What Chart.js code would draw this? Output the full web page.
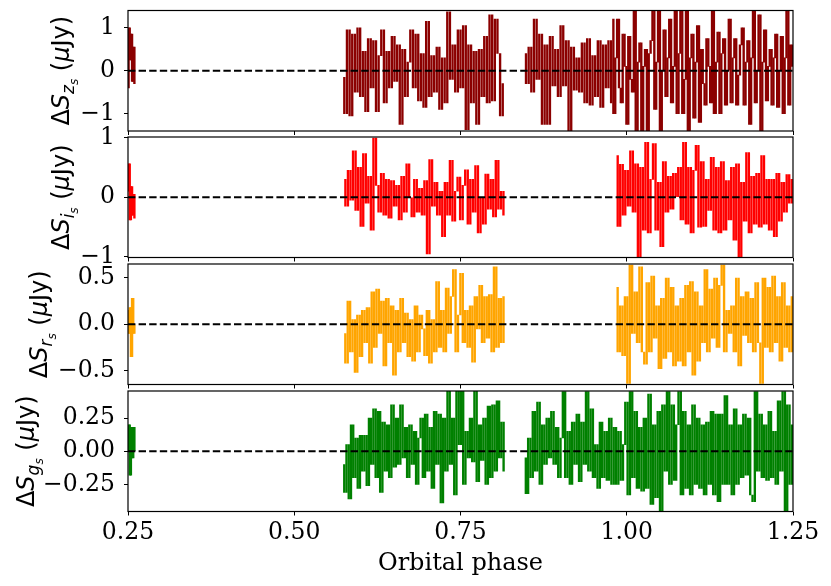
<!DOCTYPE html>
<html>
<head>
<meta charset="utf-8">
<script src="https://cdn.jsdelivr.net/npm/chart.js@4.4.1/dist/chart.umd.min.js"></script>
<style>
  body { margin: 0; background: #fff; }
  #wrap { position: relative; width: 831px; height: 586px; }
  #wrap canvas { position: absolute; left: 0; top: 0; }
</style>
</head>
<body>
<div id="wrap">
  <canvas id="panelZ" width="831" height="586"></canvas>
  <canvas id="panelI" width="831" height="586"></canvas>
  <canvas id="panelR" width="831" height="586"></canvas>
  <canvas id="panelG" width="831" height="586"></canvas>
</div>
<script>
const phaseTicks = [0.25, 0.5, 0.75, 1.0, 1.25];
const phaseTickLabels = ['0.25', '0.50', '0.75', '1.00', '1.25'];

// observed phase ranges of each band (start, end)
const zRanges = [[0.25, 0.2605], [0.5733, 0.8155], [0.8465, 0.9785], [0.9785, 1.25]];
const iRanges = [[0.25, 0.2605], [0.575, 0.8165], [0.9845, 1.25]];
const rRanges = [[0.25, 0.2605], [0.575, 0.8165], [0.9845, 1.25]];
const gRanges = [[0.25, 0.2605], [0.5735, 0.8165], [0.8465, 1.25]];

// residuals, z band (uJy)
const zFirst = [-0.4, 1.0, 0.25, 0.85, -0.25, 0.55, -0.3];
const zSecond = [-0.15, -1.0, 0.95, -1.05, 0.85, -0.5, 1.0, -0.6, 0.45, -0.95, 0.75, -0.4, 0.7, -0.95, 0.35, 0.95,
  -0.75, 0.45, -0.4, 0.8, -0.25, 0.6, -1.25, 0.5, -0.6, 0.2, 0.95, -0.4, 0.85, -0.7, 0.4, -0.85, 1.15, -0.6, 0.35,
  -0.5, 0.55, -0.9, 0.3, -0.75, 1.37, -0.2, 0.6, -0.5, 0.95, -0.4, 1.05, -1.37, 0.6, -0.75, 0.45, -1.25, 0.5, -0.6,
  0.8, -0.75, 1.3, -0.7, 1.2, 0.4, -1.05, -0.3];
const zThird = [0.4, -0.3, 0.55, -0.5, 1.2, -0.2, 0.85, -1.25, 0.6, -1.25, 0.8, -0.35, 0.5, -0.6, 1.05, -0.35, 0.7,
  -1.5, 0.55, -0.45, 0.3, -0.5, 0.65, -0.75, 0.75, -0.8, 0.35, -0.6, 0.7, -0.85, 0.6, -0.4, 0.7, -0.75];
// densest run, phase ~0.98 to 1.25
const zFourth = [1.2, -1.0, 0.3, 1.2, -0.4, -0.75, 0.85, 0.1, -1.25, 0.8, -0.2, -0.5, 1.5, -1.5, 0.2, 0.65, -1.5,
  0.1, 0.5, -1.5, 0.4, 0.7, 1.45, -0.9, 0.2, 1.45, -1.5, 0.0, 0.95, -0.6, 0.3, 1.2, -0.75, 0.1, 1.45, -1.0, 0.4,
  1.45, -1.0, -0.2, 1.4, -1.5, 0.3, 0.85, -1.1, 0.2, 1.05, -1.2, 0.5, -0.3, -0.8, 0.75, 0.1, -0.75, 1.4, -1.0, 0.2,
  0.9, -1.0, 0.4, 0.75, -0.8, 0.0, 1.2, -0.75, 0.3, 0.75, -0.8, -0.1, 0.6, 1.0, -0.8, 0.2, 0.7, -1.25, 0.3, 1.45,
  -0.75, 0.0, 1.3, -1.5, 0.2, 0.95, -0.7, 0.1, 0.5, -0.8, 0.3, 0.85, -0.85, 0.0, 0.8, -1.0, 0.3, 1.4, -0.8, 0.6, 0.1];

// residuals, i band
const iFirst = [0.1, 0.56, -0.38, 0.18, -0.3, 0.05, -0.35];
const iSecond = [0.3, -0.15, 0.45, -0.05, 0.78, -0.22, 0.5, -0.49, 0.73, -0.1, 0.35, -0.55, 0.99, 0.2, -0.25, 0.4,
  -0.3, 0.3, -0.35, 0.28, -0.15, 0.2, -0.38, 0.35, -0.25, 0.56, 0.0, -0.33, 0.3, -0.25, 0.15, -0.3, 0.28, -0.95, 0.63,
  -0.15, 0.25, -0.3, 0.1, -0.66, 0.25, -0.3, 0.62, -0.4, 0.1, 0.34, -0.38, 0.2, 0.46, -0.45, 0.3, -0.25, 0.53, -0.6,
  0.0, -0.45, 0.39, -0.2, 0.3, -0.33, 0.62, -0.2, 0.1, -0.3];
const iThird = [0.7, -0.49, 0.55, -0.3, 0.45, -0.15, 0.78, -0.25, 0.56, -1.0, 0.5, -0.55, 0.92, -0.6, 0.3, 0.9, -0.55,
  0.25, -0.83, 0.6, -0.25, 0.35, -0.2, 0.4, 0.0, 0.5, -0.38, 0.92, -0.45, 0.5, -0.6, 0.45, 0.87, -0.5, 0.6, -0.49,
  0.3, -0.22, 0.67, -0.55, 0.5, -0.6, 0.6, -0.55, 0.28, -0.38, 0.5, -0.72, 0.56, -1.0, 0.25, -0.4, 0.75, -0.6, 0.35,
  -0.45, 0.4, -0.5, 0.7, -0.45, 0.3, -0.55, 0.3, -0.66, 0.4, -0.4, 0.25, -0.25, 0.38, -0.1, 0.3];

// residuals, r band
const rFirst = [0.15, -0.1, 0.18, -0.35, 0.28, -0.1, 0.0];
const rSecond = [-0.1, -0.42, 0.25, -0.3, 0.05, -0.52, 0.1, -0.35, 0.15, -0.2, 0.18, -0.42, 0.35, -0.25, 0.38, -0.1,
  0.25, -0.45, 0.28, -0.2, 0.2, -0.55, 0.15, -0.3, 0.28, -0.2, 0.12, -0.35, 0.05, -0.4, 0.2, -0.3, 0.1, -0.05, -0.34,
  0.15, -0.42, 0.05, -0.3, 0.46, -0.25, 0.15, -0.3, 0.39, -0.1, 0.3, 0.59, -0.3, 0.1, 0.55, -0.2, 0.15, -0.25, 0.2,
  -0.41, 0.3, -0.05, 0.42, -0.2, 0.3, -0.15, 0.32, -0.3, 0.62, -0.25, 0.28, -0.2, 0.3];
const rThird = [0.4, -0.3, 0.2, -0.34, 0.3, -0.64, 0.64, -0.1, 0.35, -0.2, 0.62, -0.3, -0.43, 0.45, -0.3, 0.52, -0.15,
  0.2, -0.48, 0.28, -0.37, 0.5, -0.3, 0.4, -0.45, 0.2, -0.4, 0.28, -0.45, 0.42, -0.3, 0.46, -0.55, 0.35, -0.4, 0.2,
  -0.2, 0.59, -0.3, 0.38, -0.15, 0.5, -0.25, 0.42, 0.64, -0.3, 0.15, -0.1, 0.2, -0.3, 0.5, -0.45, 0.3, -0.12, 0.35,
  -0.2, 0.28, -0.3, 0.45, -0.2, -0.64, 0.5, -0.25, 0.4, -0.3, 0.52, -0.2, 0.3, -0.4, 0.45, -0.25, 0.2, -0.3, 0.3];

// residuals, g band
const gFirst = [0.0, 0.2, -0.18, 0.18, -0.05, 0.18, 0.0];
const gSecond = [-0.1, -0.31, 0.05, -0.36, 0.2, -0.2, 0.1, -0.28, 0.12, -0.15, 0.12, -0.26, 0.25, -0.1, 0.32, -0.2,
  0.3, -0.31, 0.22, -0.15, 0.2, -0.2, 0.35, -0.12, 0.25, -0.1, 0.35, -0.05, 0.18, -0.2, 0.2, -0.1, 0.15, -0.25, 0.1,
  0.25, -0.2, 0.28, -0.15, 0.18, -0.28, 0.3, -0.1, 0.28, -0.39, 0.25, -0.15, 0.46, -0.1, 0.25, -0.33, 0.46, 0.05,
  0.46, -0.25, 0.15, -0.05, 0.25, -0.08, 0.46, -0.23, 0.2, -0.07, 0.25, -0.25, 0.34, -0.2, 0.35, -0.15, 0.38, -0.05,
  0.22, -0.15];
const gThird = [-0.05, -0.32, 0.1, -0.2, 0.3, -0.15, 0.37, -0.25, 0.2, -0.1, 0.25, -0.05, 0.3, -0.1, 0.18, -0.2, 0.1,
  0.45, -0.2, 0.15, -0.25, 0.22, -0.1, 0.28, -0.23, 0.22, -0.1, 0.45, -0.15, 0.32, -0.2, 0.05, -0.28, 0.22, -0.2,
  0.15, -0.22, 0.25, -0.25, 0.18, -0.25, 0.15, -0.22, 0.05, 0.37, -0.33, 0.45, -0.2, 0.3, -0.28, 0.18, -0.3, 0.25,
  -0.28, 0.43, -0.4, 0.2, -0.35, 0.3, -0.45, 0.35, -0.15, 0.45, -0.25, 0.35, -0.22, 0.2, 0.45, -0.33, 0.3, -0.28,
  0.2, -0.33, 0.35, -0.25, 0.25, -0.28, 0.2, -0.33, 0.22, -0.25, 0.3, -0.33, 0.28, -0.38, 0.28, -0.25, 0.42, -0.25,
  0.2, -0.33, 0.32, -0.25, 0.2, -0.2, 0.28, -0.18, 0.25, -0.33, -0.38, 0.45, -0.15, 0.28, -0.2, 0.2, -0.22, 0.3,
  -0.2, 0.15, -0.25, 0.38, -0.15, 0.45, -0.45, 0.35, -0.25, 0.2];

// y ticks of each panel
const zTicks = [-1, 0, 1];
const zTickLabels = ['\u22121', '0', '1'];
const iTicks = [-1, 0, 1];
const iTickLabels = ['\u22121', '0', '1'];
const rTicks = [-0.5, 0, 0.5];
const rTickLabels = ['\u22120.5', '0.0', '0.5'];
const gTicks = [-0.25, 0, 0.25];
const gTickLabels = ['\u22120.25', '0.00', '0.25'];

const tickFont = { family: 'DejaVu Serif', size: 23.5 };

// spread the samples of one observing run evenly over its phase range
function spreadPoints(range, values) {
    const step = (range[1] - range[0]) / (values.length - 1);
    return values.map((v, i) => ({ x: range[0] + i * step, y: v }));
}

// the dense line is drawn as its vertical jumps: one floating bar per pair of samples
function jumpBars(range, values) {
    const pts = spreadPoints(range, values);
    return pts.slice(1).map((p, i) => ({ x: (p.x + pts[i].x) / 2, y: [pts[i].y, p.y] }));
}

const framePlugin = {
    id: 'frame',
    afterDraw(chart) {
        const { ctx, chartArea: a } = chart;
        ctx.save();
        ctx.strokeStyle = '#000';
        ctx.lineWidth = 1.2;
        ctx.strokeRect(a.left, a.top, a.right - a.left, a.bottom - a.top);
        ctx.restore();
    }
};

// mathtext-like y label: ΔS_{band_s} (μJy), plus the x title on the bottom panel
const labelPlugin = {
    id: 'labels',
    afterDraw(chart, args, opts) {
        const { ctx, chartArea: a } = chart;
        const parts = [
            { t: '\u0394', f: '24px "DejaVu Sans"', dy: 0 },
            { t: 'S', f: 'italic 24px "DejaVu Sans"', dy: 0 },
            { t: opts.band, f: 'italic 17px "DejaVu Sans"', dy: 5 },
            { t: 's', f: 'italic 12px "DejaVu Sans"', dy: 9 },
            { t: ' (', f: '24px "DejaVu Sans"', dy: 0 },
            { t: '\u03bc', f: 'italic 24px "DejaVu Sans"', dy: 0 },
            { t: 'Jy)', f: '24px "DejaVu Sans"', dy: 0 }
        ];
        ctx.save();
        ctx.fillStyle = '#000';
        let total = 0;
        parts.forEach(p => {
            ctx.font = p.f;
            p.w = ctx.measureText(p.t).width;
            total += p.w;
        });
        ctx.translate(opts.x, (a.top + a.bottom) / 2);
        ctx.rotate(-Math.PI / 2);
        ctx.textBaseline = 'alphabetic';
        let cx = -total / 2;
        parts.forEach(p => {
            ctx.font = p.f;
            ctx.fillText(p.t, cx, p.dy);
            cx += p.w;
        });
        ctx.restore();

        if (opts.xTitle) {
            ctx.save();
            ctx.fillStyle = '#000';
            ctx.font = '24px "DejaVu Serif"';
            ctx.textAlign = 'center';
            ctx.textBaseline = 'alphabetic';
            ctx.fillText(opts.xTitle, (a.left + a.right) / 2, 570);
            ctx.restore();
        }
    }
};

function makePanel(canvasId, p) {
    const xHeight = p.showPhase ? 586 - p.bottom : 4;
    const datasets = [{
        data: [{ x: 0.25, y: 0 }, { x: 1.25, y: 0 }],
        borderColor: '#000',
        borderWidth: 2.2,
        borderDash: [7.4, 3.2],
        pointRadius: 0
    }];
    p.ranges.forEach((range, k) => {
        datasets.push({
            type: 'bar',
            data: jumpBars(range, p.values[k]),
            backgroundColor: p.color,
            borderWidth: 0,
            barThickness: 1.7,
            grouped: false
        });
    });

    new Chart(document.getElementById(canvasId), {
        type: 'line',
        data: { datasets: datasets },
        options: {
            responsive: false,
            animation: false,
            events: [],
            layout: { padding: { left: 0, right: 38, top: p.top, bottom: 586 - p.bottom - xHeight } },
            plugins: {
                legend: { display: false },
                tooltip: { enabled: false },
                labels: { band: p.band, x: p.labelX, xTitle: p.showPhase ? 'Orbital phase' : '' }
            },
            scales: {
                x: {
                    type: 'linear',
                    min: 0.25,
                    max: 1.25,
                    offset: false,
                    afterBuildTicks: s => { s.ticks = phaseTicks.map(v => ({ value: v })); },
                    afterFit: s => { s.height = xHeight; s.paddingLeft = 0; s.paddingRight = 0; },
                    grid: { drawOnChartArea: false, tickLength: 4, color: '#000', lineWidth: 1, offset: false },
                    border: { display: false },
                    ticks: {
                        display: p.showPhase,
                        padding: 3,
                        color: '#000',
                        font: tickFont,
                        maxRotation: 0,
                        autoSkip: false,
                        callback: (v, i) => phaseTickLabels[i]
                    }
                },
                y: {
                    min: -p.range,
                    max: p.range,
                    afterBuildTicks: s => { s.ticks = p.ticks.map(v => ({ value: v })); },
                    afterFit: s => { s.width = 128; s.paddingTop = 0; s.paddingBottom = 0; },
                    grid: { drawOnChartArea: false, tickLength: 4, color: '#000', lineWidth: 1 },
                    border: { display: false },
                    ticks: {
                        padding: 9,
                        color: '#000',
                        font: tickFont,
                        callback: (v, i) => p.tickLabels[i]
                    }
                }
            }
        },
        plugins: [framePlugin, labelPlugin]
    });
}

makePanel('panelZ', {
    top: 10.5, bottom: 131, range: 1.40, color: '#8b0000', band: 'z', labelX: 69,
    ranges: zRanges, values: [zFirst, zSecond, zThird, zFourth], ticks: zTicks, tickLabels: zTickLabels
});
makePanel('panelI', {
    top: 137, bottom: 257.5, range: 1.01, color: '#ff0000', band: 'i', labelX: 69,
    ranges: iRanges, values: [iFirst, iSecond, iThird], ticks: iTicks, tickLabels: iTickLabels
});
makePanel('panelR', {
    top: 264, bottom: 384.5, range: 0.651, color: '#ffa500', band: 'r', labelX: 47,
    ranges: rRanges, values: [rFirst, rSecond, rThird], ticks: rTicks, tickLabels: rTickLabels
});
makePanel('panelG', {
    top: 391, bottom: 511.5, range: 0.454, color: '#008000', band: 'g', labelX: 34, showPhase: true,
    ranges: gRanges, values: [gFirst, gSecond, gThird], ticks: gTicks, tickLabels: gTickLabels
});
</script>
</body>
</html>
